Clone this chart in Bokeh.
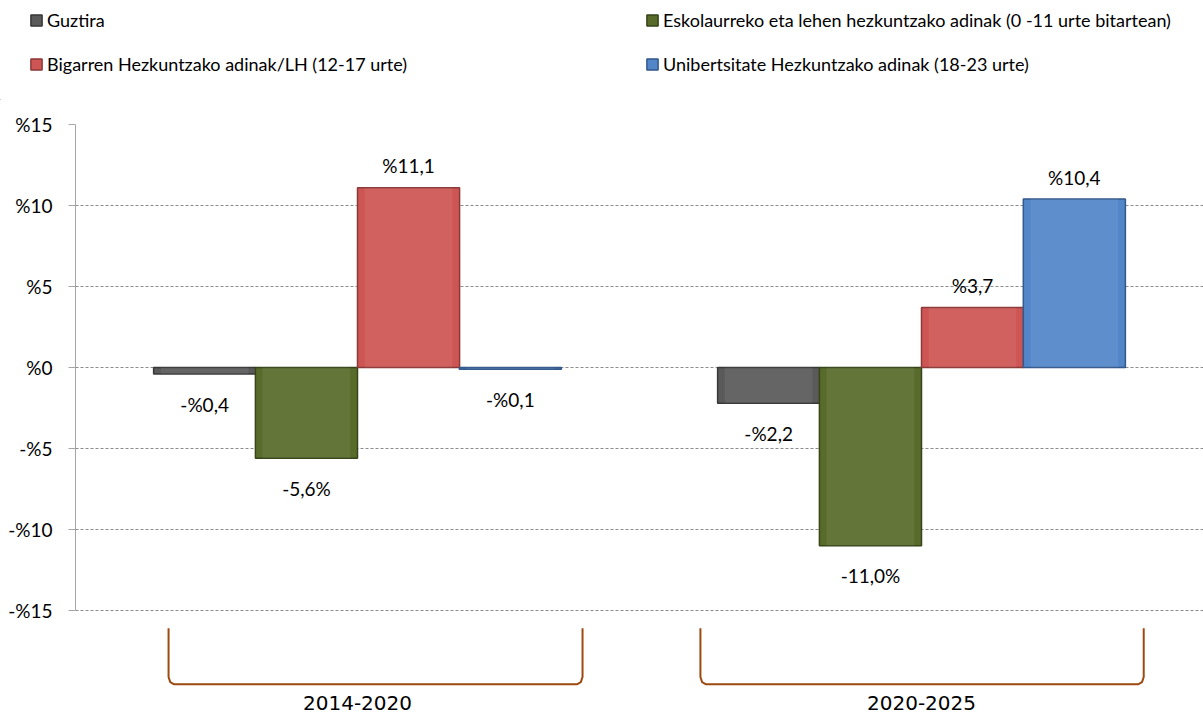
from bokeh.plotting import figure
from bokeh.models import Range1d, FixedTicker, ColumnDataSource, Legend, LegendItem
from bokeh.layouts import column
from bokeh.core.properties import value
from bokeh.embed import file_html
from bokeh.resources import INLINE

# ---- data ----
periods = ["2014-2020", "2020-2025"]
period_pos = [0.5, 1.5]
series = ["Guztira",
          "Eskolaurreko eta lehen hezkuntzako adinak (0 -11 urte bitartean)",
          "Bigarren Hezkuntzako adinak/LH (12-17 urte)",
          "Unibertsitate Hezkuntzako adinak (18-23 urte)"]
guztira = [-0.4, -2.2]
eskolaurreko = [-5.6, -11.0]
bigarren = [11.1, 3.7]
unibertsitate = [-0.1, 10.4]
label_guztira = ["-%0,4", "-%2,2"]
label_eskolaurreko = ["-5,6%", "-11,0%"]
label_bigarren = ["%11,1", "%3,7"]
label_unibertsitate = ["-%0,1", "%10,4"]
y_ticks = [-15, -10, -5, 0, 5, 10, 15]
y_tick_labels = ["-%15", "-%10", "-%5", "%0", "%5", "%10", "%15"]

# ---- style ----
colors = ["#5a5a5a", "#596b2b", "#cd5553", "#5286c8"]
edges = ["#383838", "#36451a", "#8a3a38", "#33588a"]
offsets = [-0.271, -0.0905, 0.0905, 0.271]
bar_w = 0.181
FONT = "Lato"

# ---------- legend strip ----------
pl = figure(width=1203, height=100, x_range=Range1d(0, 1), y_range=Range1d(0, 1),
            x_axis_type=None, y_axis_type=None,
            min_border_left=0, min_border_right=0, min_border_top=0, min_border_bottom=0,
            output_backend="svg", toolbar_location=None)
pl.frame_align = False
pl.outline_line_color = None
pl.xgrid.grid_line_color = None
pl.ygrid.grid_line_color = None
leg_r = []
for i in range(4):
    # off-range sample so that the legend swatch has a colour to draw
    leg_r.append(pl.vbar(x=[-5], top=[-5], bottom=[-6], width=1, fill_color=colors[i],
                         line_color=edges[i], line_width=1.5))
items = [LegendItem(label=series[0], renderers=[leg_r[0]]),
         LegendItem(label=series[2], renderers=[leg_r[2]]),
         LegendItem(label=series[1], renderers=[leg_r[1]]),
         LegendItem(label=series[3], renderers=[leg_r[3]])]
leg = Legend(items=items, ncols=2, location=(29, 25),
             glyph_width=14, glyph_height=14, label_standoff=4,
             label_text_font=FONT, label_text_font_size="18px",
             label_text_color="#000000",
             label_width=576, label_height=20, spacing=22, padding=0, margin=0,
             border_line_color=None, background_fill_alpha=0)
pl.add_layout(leg, "center")

# ---------- main chart ----------
p = figure(width=1203, height=616,
           x_range=Range1d(0, 2), y_range=Range1d(-21.54, 15),
           x_axis_location=None,
           min_border_left=75, min_border_right=0, min_border_top=24,
           min_border_bottom=0,
           output_backend="svg", toolbar_location=None)
p.frame_align = False
p.outline_line_color = None
p.xgrid.grid_line_color = None
p.ygrid.ticker = FixedTicker(ticks=y_ticks)
p.ygrid.grid_line_color = "#8c8c8c"
p.ygrid.grid_line_dash = "3 2"
p.ygrid.grid_line_width = 1

ax = p.yaxis[0]
ax.ticker = FixedTicker(ticks=y_ticks)
ax.bounds = (-15, 15)
ax.major_label_overrides = {t: l for t, l in zip(y_ticks, y_tick_labels)}
ax.axis_line_color = "#a6a6a6"
ax.major_tick_line_color = "#a6a6a6"
ax.major_tick_out = 7
ax.major_tick_in = 0
ax.minor_tick_line_color = None
ax.major_label_text_font = FONT
ax.major_label_text_font_size = "19px"
ax.major_label_text_color = "#000000"
ax.major_label_standoff = 16

centers = period_pos
all_vals = [guztira, eskolaurreko, bigarren, unibertsitate]
all_labels = [label_guztira, label_eskolaurreko, label_bigarren, label_unibertsitate]
for i, (vals, labs) in enumerate(zip(all_vals, all_labels)):
    xs = [c + offsets[i] for c in centers]
    src = ColumnDataSource(dict(x=xs, top=vals, bottom=[0] * len(vals), lab=labs,
                                dy=[-22 if v > 0 else 30 for v in vals]))
    p.vbar(x="x", top="top", bottom="bottom", width=bar_w, source=src,
           fill_color=colors[i], line_color=edges[i], line_width=1.5)
    # bevel highlight
    p.vbar(x="x", top="top", bottom="bottom", width=bar_w * 0.86, source=src,
           fill_color="#ffffff", fill_alpha=0.07, line_color=None)
    p.text(x="x", y="top", text="lab", y_offset="dy", source=src,
           text_align="center", text_baseline="middle",
           text_font=value(FONT), text_font_size="19px", text_color="#000000")

# brackets under the groups
br_left = [-0.335, -0.392]
br_right = [0.399, 0.394]
for c, l, r_ in zip(centers, br_left, br_right):
    xl, xr = c + l, c + r_
    p.line(x=[xl, xl, xl + 0.003, xl + 0.010, xr - 0.010, xr - 0.003, xr, xr],
           y=[-16.1, -19.1, -19.42, -19.55, -19.55, -19.42, -19.1, -16.1],
           line_color="#9c4a10", line_width=2)

# period labels under the brackets (category axis)
p.text(x=period_pos, y=[-15, -15], text=periods, y_offset=92,
       text_align="center", text_baseline="middle",
       text_font=value("DejaVu Sans"), text_font_size="20px", text_color="#000000")

layout = column(pl, p, spacing=0)
open("out.html", "w").write(file_html(layout, INLINE))
